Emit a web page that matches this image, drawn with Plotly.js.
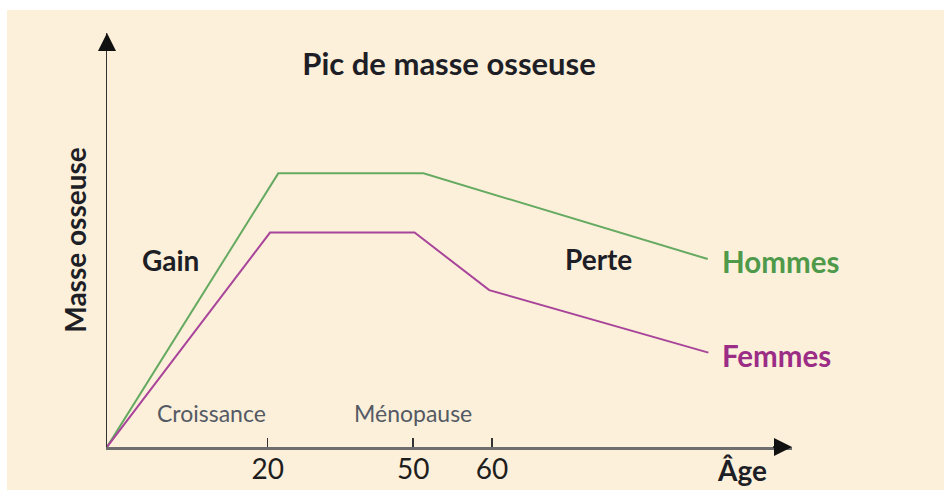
<!DOCTYPE html>
<html>
<head>
<meta charset="utf-8">
<script src="https://cdn.plot.ly/plotly-3.0.1.min.js"></script>
<style>
  html, body { margin: 0; padding: 0; background: #ffffff; width: 944px; height: 490px; overflow: hidden; }
  #chart { position: absolute; left: 7px; top: 10px; width: 937px; height: 480px; }
</style>
</head>
<body>
<div id="chart"></div>
<script>
// Schematic positions along the age axis (the drawing is not to scale)
const tickPositions = [23.46, 44.7, 56.2];
const tickLabels = ["20", "50", "60"];

// Hommes (men)
const hommesX = [0, 25.0, 46.2, 87.7];
const hommesY = [0, 66.1, 66.1, 45.4];

// Femmes (women)
const femmesX = [0, 23.8, 44.9, 55.8, 87.8];
const femmesY = [0, 51.8, 51.8, 37.9, 22.8];

const seriesNames = ["Hommes", "Femmes"];
const BG = "#fcf0da";
const GREEN_LINE = "#66aa62";
const GREEN_TEXT = "#4f9a4a";
const PURPLE_LINE = "#a8459a";
const PURPLE_TEXT = "#9b2d86";
const FONT = "Lato, 'Open Sans', sans-serif";

const traces = [
  { x: hommesX, y: hommesY, name: seriesNames[0], mode: "lines", type: "scatter",
    line: { color: GREEN_LINE, width: 2 }, cliponaxis: false, hoverinfo: "skip" },
  { x: femmesX, y: femmesY, name: seriesNames[1], mode: "lines", type: "scatter",
    line: { color: PURPLE_LINE, width: 2 }, cliponaxis: false, hoverinfo: "skip" }
];

const layout = {
  width: 937, height: 480,
  margin: { l: 100, r: 152, t: 23, b: 43 },
  paper_bgcolor: BG, plot_bgcolor: BG,
  showlegend: false,
  font: { family: FONT, color: "#222" },
  title: {
    text: "<b>Pic de masse osseuse</b>",
    font: { family: FONT, size: 31, color: "#1e1e26", weight: 900 },
    xref: "container", yref: "container",
    x: 442 / 937, xanchor: "center",
    y: 1 - 54 / 480, yanchor: "middle"
  },
  xaxis: {
    range: [0, 100], showgrid: false, zeroline: false,
    showline: true, linecolor: "#6e6e6e", linewidth: 2.5,
    ticks: "inside", ticklen: 9, tickwidth: 1.5, tickcolor: "#333",
    tickvals: tickPositions, ticktext: tickLabels,
    tickfont: { family: FONT, size: 28, color: "#1e1e1e" },
    ticklabelstandoff: -4,
    fixedrange: true
  },
  yaxis: {
    range: [0, 100], showgrid: false, zeroline: false,
    showline: true, linecolor: "#333", linewidth: 1.5,
    ticks: "", showticklabels: false,
    title: { text: "<b>Masse osseuse</b>", font: { family: FONT, size: 28, color: "#1e1e26" }, standoff: 10 },
    fixedrange: true
  },
  annotations: [
    // axis arrowheads
    { x: 100, y: 0, ax: 97, ay: 0, xref: "x", yref: "y", axref: "x", ayref: "y",
      text: "", showarrow: true, arrowhead: 2, arrowsize: 2.4, arrowwidth: 1.5, arrowcolor: "#111" },
    { x: 0, y: 100, ax: 0, ay: 96, xref: "x", yref: "y", axref: "x", ayref: "y",
      text: "", showarrow: true, arrowhead: 2, arrowsize: 2.4, arrowwidth: 1.5, arrowcolor: "#111" },
    { x: 9.2, y: 45.2, xref: "x", yref: "y", text: "<b>Gain</b>", showarrow: false,
      font: { family: FONT, size: 28, color: "#1e1e26" } },
    { x: 71.7, y: 45.4, xref: "x", yref: "y", text: "<b>Perte</b>", showarrow: false,
      font: { family: FONT, size: 28, color: "#1e1e26" } },
    { x: 89.5, y: 44.7, xref: "x", yref: "y", text: "<b>" + seriesNames[0] + "</b>", showarrow: false,
      xanchor: "left", font: { family: FONT, size: 29.5, color: GREEN_TEXT } },
    { x: 89.5, y: 22.2, xref: "x", yref: "y", text: "<b>" + seriesNames[1] + "</b>", showarrow: false,
      xanchor: "left", font: { family: FONT, size: 29.5, color: PURPLE_TEXT } },
    { x: 15.2, y: 8.2, xref: "x", yref: "y", text: "Croissance", showarrow: false,
      font: { family: FONT, size: 23, color: "#545a64" } },
    { x: 44.7, y: 8.2, xref: "x", yref: "y", text: "Ménopause", showarrow: false,
      font: { family: FONT, size: 23, color: "#545a64" } },
    { x: 92.7, y: -23 / 414, xref: "x", yref: "paper", yanchor: "middle", xanchor: "center",
      text: "<b>Âge</b>", showarrow: false,
      font: { family: FONT, size: 28, color: "#1e1e26" } }
  ]
};

Plotly.newPlot("chart", traces, layout, { displayModeBar: false, staticPlot: true });
</script>
</body>
</html>
